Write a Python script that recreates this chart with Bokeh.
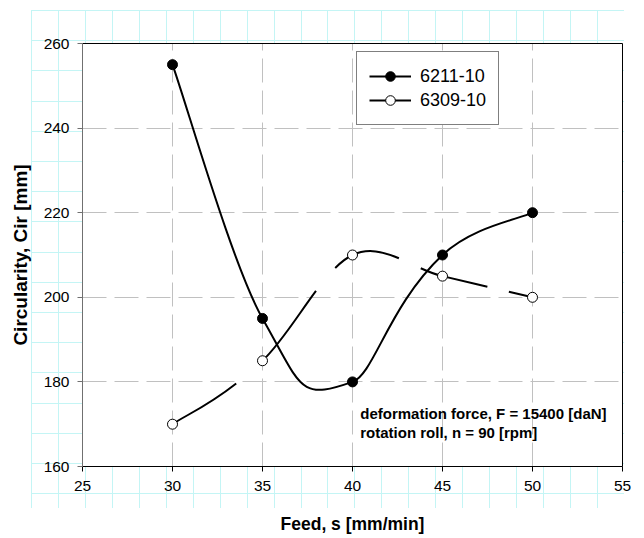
from bokeh.plotting import figure
from bokeh.models import (Range1d, FixedTicker, LinearAxis, Legend, LegendItem,
                          Label, ColumnDataSource)
from bokeh.embed import file_html
from bokeh.resources import INLINE

# ---------------- data ----------------
feed = [30, 35, 40, 45, 50]
cir_6211 = [255, 195, 180, 210, 220]
cir_6309 = [170, 185, 210, 205, 200]
series_names = ["6211-10", "6309-10"]
x_ticks = [25, 30, 35, 40, 45, 50, 55]
y_ticks = [160, 180, 200, 220, 240, 260]
note_lines = ["deformation force, F = 15400 [daN]", "rotation roll, n = 90 [rpm]"]
x_title = "Feed, s [mm/min]"
y_title = "Circularity, Cir [mm]"

# ---------------- style ----------------
# smoothing handle lengths per segment (start, end)
smooth_6211 = [(1 / 6, 1 / 6), (0.22, 0.3), (0.12, 0.3), (1 / 6, 1 / 6)]
smooth_6309 = [(1 / 6, 0.25), (1 / 6, 1 / 6), (1 / 6, 1 / 6), (1 / 6, 1 / 6)]
dash_6309 = [("76 40", 0), ("88 30", 0), ("70 24", 22), ("70 22", 24)]
FONT = "Liberation Sans"


def bezier_segments(xs, ys, factors):
    n = len(xs)
    out = dict(x0=[], y0=[], x1=[], y1=[], cx0=[], cy0=[], cx1=[], cy1=[])
    for i in range(n - 1):
        a = max(i - 1, 0)
        b = min(i + 2, n - 1)
        f0, f1 = factors[i]
        out["x0"].append(xs[i])
        out["y0"].append(ys[i])
        out["x1"].append(xs[i + 1])
        out["y1"].append(ys[i + 1])
        out["cx0"].append(xs[i] + f0 * (xs[i + 1] - xs[a]))
        out["cy0"].append(ys[i] + f0 * (ys[i + 1] - ys[a]))
        out["cx1"].append(xs[i + 1] - f1 * (xs[b] - xs[i]))
        out["cy1"].append(ys[i + 1] - f1 * (ys[b] - ys[i]))
    return out


p = figure(width=644, height=538,
           x_range=Range1d(x_ticks[0], x_ticks[-1]),
           y_range=Range1d(y_ticks[0], y_ticks[-1]),
           output_backend="svg", toolbar_location=None,
           min_border_left=82, min_border_right=22,
           min_border_top=43, min_border_bottom=72,
           border_fill_color=None, background_fill_color="white",
           outline_line_color=None)

# spreadsheet-like cyan cell lines behind the chart (page decoration)
cyan = "#c4f5f5"
p.styles = {
    "background-image": (
        f"repeating-linear-gradient(to right, {cyan} 0px, {cyan} 1px, transparent 1px, transparent 26.95px),"
        f"repeating-linear-gradient(to bottom, {cyan} 0px, {cyan} 1px, transparent 1px, transparent 30.2px)"),
    "background-size": "592px 498px, 593px 486px",
    "background-position": "31px 10px, 31px 10px",
    "background-repeat": "no-repeat",
}

# axes
xa = p.xaxis[0]
xa.ticker = FixedTicker(ticks=x_ticks)
xa.axis_label = x_title
xa.axis_line_color = "black"
xa.major_tick_line_color = "black"
xa.major_tick_out = 5
xa.major_tick_in = 0
xa.minor_tick_line_color = None
xa.major_label_standoff = 9
xa.major_label_text_font = FONT
xa.major_label_text_font_size = "15.5px"
xa.major_label_text_color = "black"
xa.axis_label_text_font = FONT
xa.axis_label_text_font_style = "bold"
xa.axis_label_text_font_size = "17.5px"
xa.axis_label_text_color = "black"
xa.axis_label_standoff = 20

ya = p.yaxis[0]
ya.ticker = FixedTicker(ticks=y_ticks)
ya.axis_label = y_title
ya.axis_line_color = "#707070"
ya.major_tick_line_color = "#707070"
ya.major_tick_out = 5
ya.major_tick_in = 0
ya.minor_tick_line_color = None
ya.major_label_standoff = 8
ya.major_label_text_font = FONT
ya.major_label_text_font_size = "15.5px"
ya.major_label_text_color = "black"
ya.axis_label_text_font = FONT
ya.axis_label_text_font_style = "bold"
ya.axis_label_text_font_size = "19px"
ya.axis_label_text_color = "black"
ya.axis_label_standoff = 10

for loc in ("above", "right"):
    ax = LinearAxis(ticker=FixedTicker(ticks=[]), axis_line_color="black",
                    major_tick_line_color=None, minor_tick_line_color=None,
                    major_label_text_font_size="0px")
    p.add_layout(ax, loc)

# grid
p.xgrid.ticker = FixedTicker(ticks=x_ticks[1:-1])
p.ygrid.ticker = FixedTicker(ticks=y_ticks[1:-1])
for g in (p.xgrid[0], p.ygrid[0]):
    g.grid_line_color = "#c0c0c0"
    g.grid_line_dash = "24 8"
    g.grid_line_width = 1

# curves
src_a = ColumnDataSource(bezier_segments(feed, cir_6211, smooth_6211))
curve_a = p.bezier(x0="x0", y0="y0", x1="x1", y1="y1", cx0="cx0", cy0="cy0",
                   cx1="cx1", cy1="cy1", source=src_a, line_color="black",
                   line_width=2)

seg_b = bezier_segments(feed, cir_6309, smooth_6309)
curves_b = []
for i, (dash, off) in enumerate(dash_6309):
    one = {k: [v[i]] for k, v in seg_b.items()}
    curves_b.append(p.bezier(x0="x0", y0="y0", x1="x1", y1="y1", cx0="cx0",
                             cy0="cy0", cx1="cx1", cy1="cy1",
                             source=ColumnDataSource(one),
                             line_color="black", line_width=2, line_dash=dash,
                             line_dash_offset=off, line_cap="butt"))

sc_a = p.scatter(feed, cir_6211, size=10, marker="circle",
                 fill_color="black", line_color="black", line_width=1)
sc_b = p.scatter(feed, cir_6309, size=10, marker="circle",
                 fill_color="white", line_color="black", line_width=1)

legend = Legend(items=[LegendItem(label=series_names[0], renderers=[curve_a, sc_a]),
                       LegendItem(label=series_names[1], renderers=[curves_b[0], sc_b])],
                location=(274, 341), border_line_color="black", border_line_width=1,
                background_fill_color="white", background_fill_alpha=1.0,
                padding=12, spacing=0, margin=0, glyph_width=42, glyph_height=24,
                label_height=24, label_standoff=9, label_text_font=FONT,
                label_text_font_size="18px", label_text_color="black")
p.add_layout(legend)

# annotation
note_y = [172.5, 168.0]
for txt, yy in zip(note_lines, note_y):
    p.add_layout(Label(x=40.43, y=yy, text=txt, text_font=FONT,
                       text_font_style="bold", text_font_size="15px",
                       text_baseline="middle", text_color="black"))

open("out.html", "w").write(file_html(p, INLINE))
